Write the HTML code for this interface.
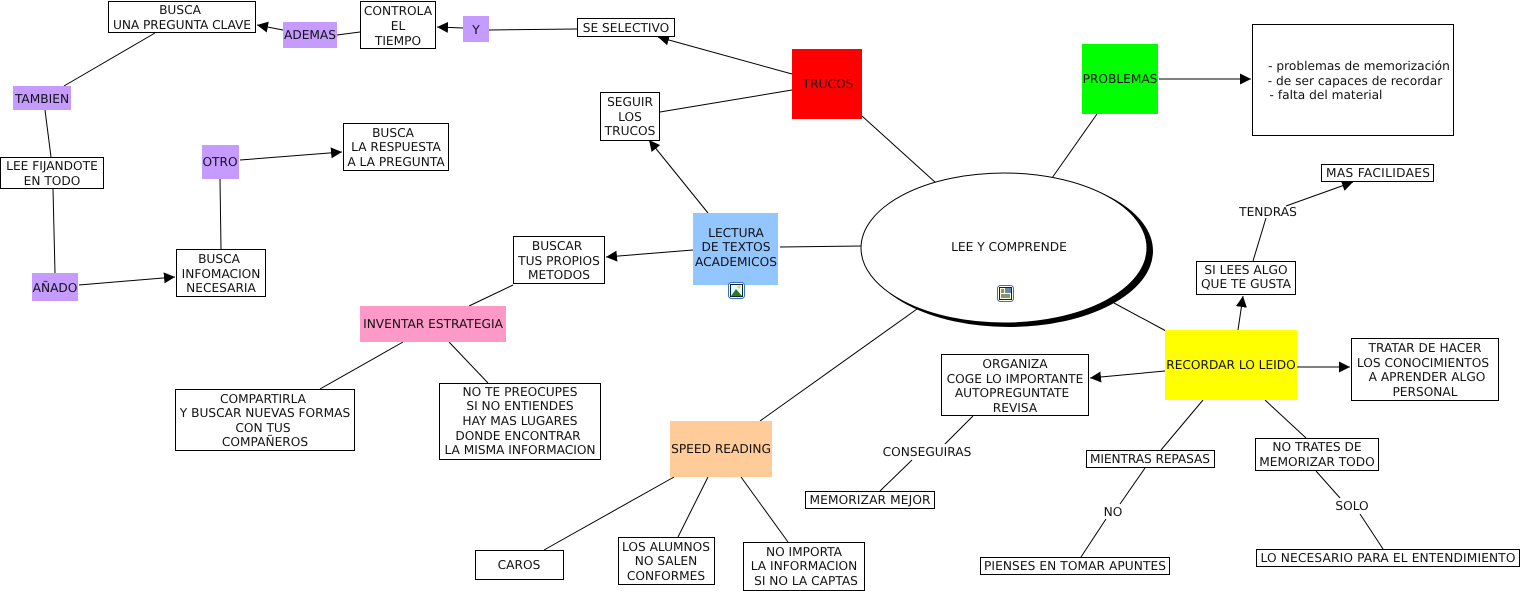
<!DOCTYPE html>
<html lang="es"><head><meta charset="utf-8"><title>LEE Y COMPRENDE</title>
<style>
html,body{margin:0;padding:0;background:#fff}
svg{display:block}
text{font-family:"DejaVu Sans","Liberation Sans",sans-serif;font-size:12.2px;fill:#111;text-anchor:middle;text-rendering:geometricPrecision}
.l{stroke:#000;stroke-width:1;fill:none}
.a{stroke:#000;stroke-width:1;fill:none;marker-end:url(#m)}
.b{fill:#fff;stroke:#000;stroke-width:1}
.p{fill:#c69bff}
</style></head><body>
<svg width="1521" height="591" viewBox="0 0 1521 591" xmlns="http://www.w3.org/2000/svg">
<defs><marker id="m" markerUnits="userSpaceOnUse" markerWidth="12" markerHeight="12" refX="11" refY="6" orient="auto"><path d="M0,0.5L11,6L0,11.5Z" fill="#000"/></marker></defs>

<!-- connectors -->
<path class="l" d="M862,116L936,183M1097,114L1052,178M780,247L862,246M917,309L760,421M1114,303L1166,331"/>
<path class="a" d="M792,74L658,37"/>
<path class="l" d="M792,90L660,112"/>
<path class="a" d="M708,213L649,140"/>
<path class="a" d="M693,250L606,257"/>
<path class="l" d="M513,285L469,306M403,342L320,389M449,342L488,383"/>
<path class="l" d="M577,29L489,30"/>
<path class="a" d="M463,28L437,27"/>
<path class="l" d="M360,32L337,35"/>
<path class="a" d="M283,30L257,25"/>
<path class="l" d="M155,33L64,86M45,110L51,157M53,189L55,273"/>
<path class="a" d="M79,285L175,277"/>
<path class="l" d="M221,249L220,179"/>
<path class="a" d="M240,160L342,152"/>
<path class="a" d="M1159,79L1251,79"/>
<path class="a" d="M1238,330L1243,296"/>
<path class="l" d="M1253,261L1266,218"/>
<path class="a" d="M1286,206L1353,182"/>
<path class="a" d="M1297,367L1350,367"/>
<path class="a" d="M1165,371L1090,378"/>
<path class="l" d="M973,416L945,444M912,460L880,491"/>
<path class="l" d="M1203,400L1161,450M1145,468L1120,504M1106,519L1081,557"/>
<path class="l" d="M1265,400L1306,438M1316,471L1340,498M1360,514L1383,549"/>
<path class="l" d="M674,477L544,550M708,477L678,537M741,477L788,542"/>

<!-- ellipse -->
<ellipse cx="1009" cy="251" rx="144" ry="76" fill="#000"/>
<ellipse cx="1004" cy="248" rx="143" ry="75" fill="#fff" stroke="#000" stroke-width="1"/>
<text x="1009" y="251">LEE Y COMPRENDE</text>

<!-- filled nodes -->
<rect x="792" y="49" width="70" height="70" fill="#f00"/>
<rect x="1082" y="44" width="76" height="70" fill="#0f0"/>
<rect x="693" y="213" width="85" height="72" fill="#93c5ff"/>
<rect x="360" y="306" width="146" height="36" fill="#ff99c8"/>
<rect x="670" y="421" width="102" height="56" fill="#ffcc99"/>
<rect x="1165" y="330" width="132" height="70" fill="#ff0"/>
<rect class="p" x="283" y="22" width="54" height="26"/>
<rect class="p" x="463" y="16" width="26" height="26"/>
<rect class="p" x="13" y="86" width="58" height="24"/>
<rect class="p" x="202" y="145" width="37" height="34"/>
<rect class="p" x="32" y="273" width="46" height="28"/>

<!-- boxes -->
<rect class="b" x="108.5" y="1.5" width="147" height="31"/>
<rect class="b" x="360.5" y="1.5" width="75" height="47"/>
<rect class="b" x="577.5" y="18.5" width="97" height="18"/>
<rect class="b" x="600.5" y="92.5" width="59" height="48"/>
<rect class="b" x="1252.5" y="24.5" width="201" height="111"/>
<rect class="b" x="1321.5" y="164.5" width="112" height="17"/>
<rect class="b" x="1196.5" y="261.5" width="99" height="33"/>
<rect class="b" x="513.5" y="236.5" width="91" height="47"/>
<rect class="b" x="175.5" y="389.5" width="179" height="61"/>
<rect class="b" x="439.5" y="383.5" width="161" height="76"/>
<rect class="b" x="475.5" y="550.5" width="88" height="29"/>
<rect class="b" x="618.5" y="537.5" width="96" height="47"/>
<rect class="b" x="743.5" y="542.5" width="121" height="48"/>
<rect class="b" x="941.5" y="354.5" width="147" height="61"/>
<rect class="b" x="805.5" y="491.5" width="129" height="17"/>
<rect class="b" x="1351.5" y="338.5" width="147" height="62"/>
<rect class="b" x="1086.5" y="450.5" width="128" height="17"/>
<rect class="b" x="1255.5" y="438.5" width="123" height="32"/>
<rect class="b" x="980.5" y="557.5" width="189" height="17"/>
<rect class="b" x="1256.5" y="549.5" width="263" height="17"/>
<rect class="b" x="343.5" y="123.5" width="105" height="47"/>
<rect class="b" x="0.5" y="157.5" width="103" height="31"/>
<rect class="b" x="176.5" y="249.5" width="89" height="47"/>

<!-- labels -->
<text x="180" y="14">BUSCA</text><text x="182" y="29" textLength="138">UNA PREGUNTA CLAVE</text>
<text x="310" y="39">ADEMAS</text>
<text x="398" y="15">CONTROLA</text><text x="398" y="30">EL</text><text x="398" y="45">TIEMPO</text>
<text x="476" y="34">Y</text>
<text x="626" y="32">SE SELECTIVO</text>
<text x="828" y="88">TRUCOS</text>
<text x="630" y="106">SEGUIR</text><text x="630" y="121">LOS</text><text x="630" y="135">TRUCOS</text>
<text x="1120" y="83">PROBLEMAS</text>
<text x="1359" y="70">- problemas de memorización</text>
<text x="1355" y="85">- de ser capaces de recordar</text>
<text x="1326" y="99">- falta del material</text>
<text x="1378" y="177" textLength="104">MAS FACILIDAES</text>
<text x="1268" y="216">TENDRAS</text>
<text x="1246" y="274">SI LEES ALGO</text><text x="1246" y="288">QUE TE GUSTA</text>
<text x="736" y="237">LECTURA</text><text x="736" y="251">DE TEXTOS</text><text x="736" y="266">ACADEMICOS</text>
<text x="557" y="250">BUSCAR</text><text x="559" y="265">TUS PROPIOS</text><text x="559" y="279">METODOS</text>
<text x="433" y="328">INVENTAR ESTRATEGIA</text>
<text x="263" y="403">COMPARTIRLA</text><text x="265" y="417">Y BUSCAR NUEVAS FORMAS</text><text x="263" y="432">CON TUS</text><text x="265" y="446">COMPAÑEROS</text>
<text x="520" y="396">NO TE PREOCUPES</text><text x="520" y="410">SI NO ENTIENDES</text><text x="520" y="425">HAY MAS LUGARES</text><text x="518" y="440">DONDE ENCONTRAR</text><text x="520" y="454">LA MISMA INFORMACION</text>
<text x="721" y="453">SPEED READING</text>
<text x="519" y="569">CAROS</text>
<text x="666" y="551">LOS ALUMNOS</text><text x="666" y="565">NO SALEN</text><text x="666" y="580">CONFORMES</text>
<text x="804" y="556">NO IMPORTA</text><text x="804" y="570">LA INFORMACION</text><text x="806" y="585">SI NO LA CAPTAS</text>
<text x="1015" y="368">ORGANIZA</text><text x="1015" y="383">COGE LO IMPORTANTE</text><text x="1012" y="397">AUTOPREGUNTATE</text><text x="1015" y="412">REVISA</text>
<text x="927" y="456">CONSEGUIRAS</text>
<text x="870" y="504" textLength="121">MEMORIZAR MEJOR</text>
<text x="1231" y="369">RECORDAR LO LEIDO</text>
<text x="1425" y="352">TRATAR DE HACER</text><text x="1423" y="367">LOS CONOCIMIENTOS</text><text x="1427" y="381">A APRENDER ALGO</text><text x="1425" y="396">PERSONAL</text>
<text x="1150" y="463" textLength="120">MIENTRAS REPASAS</text>
<text x="1317" y="451">NO TRATES DE</text><text x="1317" y="466">MEMORIZAR TODO</text>
<text x="1113" y="516">NO</text>
<text x="1075" y="570" textLength="182">PIENSES EN TOMAR APUNTES</text>
<text x="1352" y="510">SOLO</text>
<text x="1388" y="562" textLength="255">LO NECESARIO PARA EL ENTENDIMIENTO</text>
<text x="393" y="137">BUSCA</text><text x="396" y="151">LA RESPUESTA</text><text x="396" y="166">A LA PREGUNTA</text>
<text x="220" y="166">OTRO</text>
<text x="52" y="170">LEE FIJANDOTE</text><text x="52" y="185">EN TODO</text>
<text x="42" y="103">TAMBIEN</text>
<text x="55" y="292">AÑADO</text>
<text x="219" y="263">BUSCA</text><text x="221" y="278">INFOMACION</text><text x="221" y="292">NECESARIA</text>

<!-- attachment icons -->
<g>
<rect x="728.5" y="282.5" width="16" height="16" rx="3" fill="#fff" stroke="#3a6fc4"/>
<rect x="730.5" y="284.5" width="12" height="12" fill="#dff" stroke="#123"/>
<path d="M731,296L736,289L742,296Z" fill="#2a7a2a"/><circle cx="739" cy="287" r="1.5" fill="#fc3"/>
<rect x="997.5" y="285.5" width="16" height="16" rx="3" fill="#fff" stroke="#3a6fc4"/>
<rect x="999.5" y="287.5" width="12" height="12" fill="#ffc" stroke="#123"/>
<rect x="1005" y="288" width="6" height="5" fill="#68a"/>
<path d="M1001,295H1010M1001,297H1010M1001,290H1004M1001,292H1004" stroke="#123" stroke-width="1"/>
</g>
</svg>
</body></html>
